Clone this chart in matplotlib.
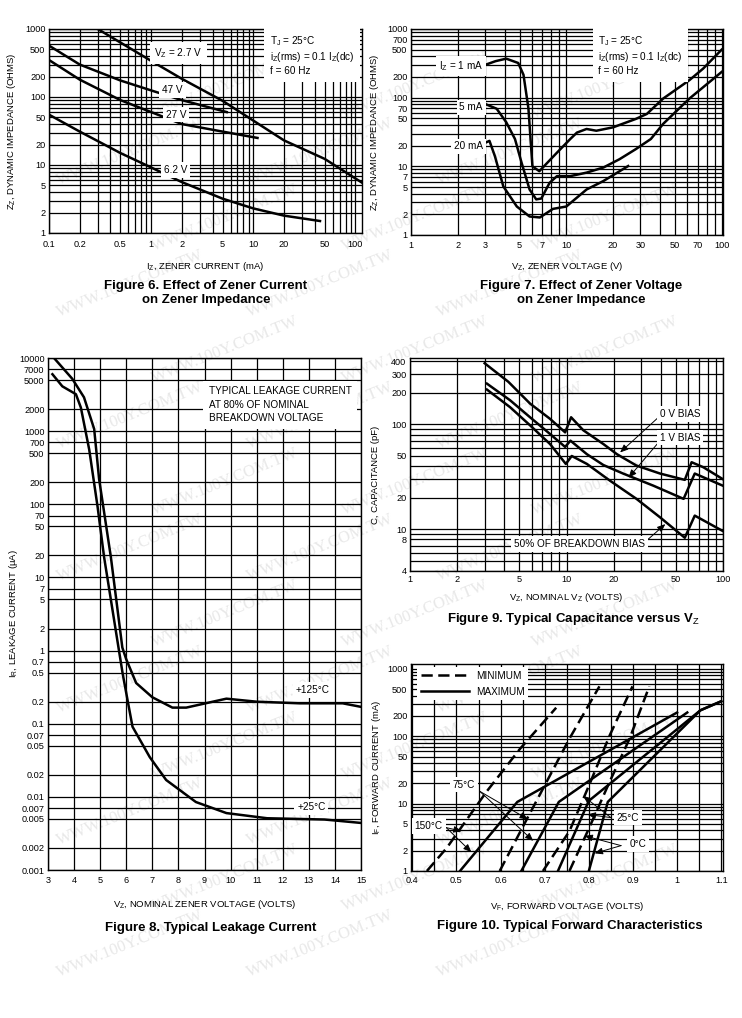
import matplotlib
matplotlib.use("Agg")
import matplotlib.pyplot as plt
from matplotlib.ticker import LogLocator, NullFormatter, MultipleLocator

plt.rcParams['font.family'] = ['Liberation Sans', 'DejaVu Sans']
plt.rcParams['mathtext.fontset'] = 'custom'
plt.rcParams['mathtext.rm'] = 'Liberation Sans'
plt.rcParams['mathtext.it'] = 'Liberation Sans'
plt.rcParams['mathtext.bf'] = 'Liberation Sans:bold'
plt.rcParams['mathtext.default'] = 'rm'

W, H = 742, 1018
TICK_FS = 6.6
LBL_FS = 6.8
NOTE_FS = 7.2
TITLE_FS = 9.5
LW = 1.8
GRID_LW = 0.9

# ---------------- Figure 6: Zz vs Iz ----------------
iz_2v7 = [0.3, 1.0, 2.0, 5.0, 10, 20, 50, 116]
zz_2v7 = [1000, 340, 185, 88, 45, 23, 12.3, 5.5]
iz_47v = [0.1, 0.2, 0.5, 1.0, 2.0, 5.5]
zz_47v = [570, 300, 175, 125, 90, 60]
iz_27v = [0.1, 0.2, 0.5, 1.0, 2.0, 5.0, 11]
zz_27v = [350, 180, 90, 60, 40, 31, 25]
iz_6v2 = [0.1, 0.2, 0.5, 1.0, 2.0, 5.0, 10, 20, 45]
zz_6v2 = [55, 31, 15, 9.2, 5.6, 3.2, 2.3, 1.8, 1.5]
f6_xticks = [0.1, 0.2, 0.5, 1, 2, 5, 10, 20, 50, 100]
f6_xlabels = ['0.1', '0.2', '0.5', '1', '2', '5', '10', '20', '50', '100']
f6_yticks = [1, 2, 5, 10, 20, 50, 100, 200, 500, 1000]

# ---------------- Figure 7: Zz vs Vz ----------------
vz_1ma = [3.0, 3.5, 4.1, 4.9, 5.3, 5.7, 6.05, 6.7, 8.7, 10.6, 11.7, 13.5, 15.6, 20, 28, 33, 42, 62, 76, 100]
zz_1ma = [300, 340, 370, 320, 215, 70, 10, 8.5, 15.8, 25, 31, 35, 33, 37, 49, 58, 97, 180, 265, 500]
vz_5ma = [3.0, 3.56, 4.1, 4.67, 5.15, 5.8, 6.4, 6.9, 7.8, 8.7, 10.6, 13.5, 17.3, 22, 28, 35, 42, 62, 100]
zz_5ma = [81, 69, 44, 25, 11.3, 4.6, 3.3, 3.4, 5.75, 7.2, 7.2, 8.1, 9.6, 12.7, 17.8, 25, 41.5, 97, 237]
vz_20ma = [3.0, 3.2, 3.47, 3.93, 4.8, 5.8, 6.75, 8.2, 10, 13.5, 17.3, 25]
zz_20ma = [22, 23.5, 14, 5.1, 2.6, 1.86, 1.8, 2.4, 2.6, 4.6, 6.1, 10.1]
f7_xticks = [1, 2, 3, 5, 7, 10, 20, 30, 50, 70, 100]
f7_yticks = [1, 2, 5, 7, 10, 20, 50, 70, 100, 200, 500, 700, 1000]

# ---------------- Figure 8: leakage current ----------------
vz_125c = [3.23, 3.93, 4.38, 4.77, 4.96, 5.41, 5.85, 6.0, 6.38, 7.0, 7.77, 8.3, 9.84, 11.0, 12.65, 14.3, 15.0]
ir_125c = [10000, 5200, 2900, 1070, 220, 19, 1.1, 0.76, 0.36, 0.23, 0.166, 0.166, 0.22, 0.2, 0.19, 0.19, 0.17]
vz_25c = [3.17, 3.55, 4.07, 4.26, 4.58, 4.9, 5.15, 5.67, 5.86, 6.05, 6.24, 6.9, 7.53, 8.67, 9.84, 11.4, 13.6, 15.0]
ir_25c = [6000, 4100, 3200, 2100, 560, 93, 19, 1.3, 0.49, 0.21, 0.091, 0.035, 0.017, 0.0085, 0.006, 0.0051, 0.0049, 0.0044]
f8_yticks = [0.001, 0.002, 0.005, 0.007, 0.01, 0.02, 0.05, 0.07, 0.1, 0.2, 0.5, 0.7, 1, 2, 5, 7,
             10, 20, 50, 70, 100, 200, 500, 700, 1000, 2000, 5000, 7000, 10000]
f8_ylabels = ['0.001', '0.002', '0.005', '0.007', '0.01', '0.02', '0.05', '0.07', '0.1', '0.2', '0.5', '0.7',
              '1', '2', '5', '7', '10', '20', '50', '70', '100', '200', '500', '700', '1000', '2000',
              '5000', '7000', '10000']
f8_xticks = list(range(3, 16))

# ---------------- Figure 9: capacitance ----------------
vz_0v = [3.0, 4.25, 5.85, 7.85, 9.8, 10.7, 12.8, 17.2, 21, 28, 39.6, 57, 63, 75, 100]
c_0v = [383, 255, 158, 113, 84, 117, 88, 65, 52, 40.5, 34, 29.6, 43.6, 39, 30]
vz_1v = [3.1, 4.36, 5.85, 7.85, 9.8, 10.6, 13.5, 17.2, 23, 36, 56, 66, 100]
c_1v = [245, 170, 117, 81, 61, 70, 52, 41, 34, 26, 19.5, 34, 26]
vz_50 = [3.1, 4.36, 5.85, 7.85, 9.9, 10.8, 13.5, 19, 28, 39.6, 57, 66, 100]
c_50 = [215, 146, 98, 65, 42, 50, 42, 29, 19.5, 13, 8.3, 13.5, 9.6]
f9_xticks = [1, 2, 5, 10, 20, 50, 100]
f9_yticks = [4, 8, 10, 20, 50, 100, 200, 300, 400]

# ---------------- Figure 10: forward characteristics ----------------
vf_min = [[0.433, 0.478, 0.568, 0.644, 0.726],
          [0.598, 0.659, 0.756, 0.824],
          [0.696, 0.756, 0.801, 0.847, 0.899],
          [0.756, 0.801, 0.847, 0.892, 0.937]]
if_min = [[1, 2.2, 15, 65, 265],
          [1, 5.8, 92, 550],
          [1, 3.9, 19, 102, 550],
          [1, 4.4, 21, 91, 550]]
vf_max = [[0.508, 0.638, 1.0],
          [0.647, 0.732, 1.023],
          [0.73, 0.80, 1.053, 1.1],
          [0.80, 0.843, 1.053, 1.1]]
if_max = [[1, 10.6, 225],
          [1, 10.6, 225],
          [1, 11, 243, 330],
          [1, 10.6, 243, 330]]
f10_xticks = [0.4, 0.5, 0.6, 0.7, 0.8, 0.9, 1.0, 1.1]
f10_xlabels = ['0.4', '0.5', '0.6', '0.7', '0.8', '0.9', '1', '1.1']
f10_yticks = [1, 2, 5, 10, 20, 50, 100, 200, 500, 1000]

fig = plt.figure(figsize=(W / 100, H / 100), dpi=100)
fig.patch.set_facecolor('white')

# faint watermark behind everything (only copies that sit fully inside the page)
for row in range(16):
    for col in range(5):
        xw = -60 + col * 190 + (row % 2) * 95
        yw = 20 + row * 66
        if 80 <= xw <= W - 80 and 35 <= yw <= H - 35:
            fig.text(xw / W, 1 - yw / H, "WWW.100Y.COM.TW", fontsize=12, family='Liberation Serif',
                     color='#e8e8e8', rotation=22, ha='center', va='center', zorder=-5)


def axes_px(x0, y0, x1, y1):
    a = fig.add_axes([x0 / W, 1 - y1 / H, (x1 - x0) / W, (y1 - y0) / H])
    a.set_facecolor('none')
    for s in a.spines.values():
        s.set_linewidth(1.0)
        s.set_color('k')
    return a


def log_minor(axis):
    axis.set_minor_locator(LogLocator(base=10, subs=range(2, 10), numticks=30))
    axis.set_minor_formatter(NullFormatter())


def finish(ax, xpad, ypad=2.5):
    ax.tick_params(which='both', length=0, labelsize=TICK_FS)
    ax.tick_params(axis='x', pad=xpad)
    ax.tick_params(axis='y', pad=ypad)
    ax.grid(True, which='both', color='k', lw=GRID_LW)
    ax.set_axisbelow(True)


white = dict(facecolor='white', edgecolor='none', pad=2.0)

# ===== Figure 6 =====
ax6 = axes_px(49, 29, 362, 233)
ax6.set_xscale('log')
ax6.set_yscale('log')
ax6.plot(iz_2v7, zz_2v7, 'k', lw=LW)
ax6.plot(iz_47v, zz_47v, 'k', lw=LW)
ax6.plot(iz_27v, zz_27v, 'k', lw=LW)
ax6.plot(iz_6v2, zz_6v2, 'k', lw=LW)
ax6.set_xlim(0.1, 116)
ax6.set_ylim(1, 1000)
log_minor(ax6.xaxis)
log_minor(ax6.yaxis)
ax6.set_xticks(f6_xticks, f6_xlabels)
ax6.set_yticks(f6_yticks, [str(v) for v in f6_yticks])
finish(ax6, 5.0)
ax6.text(1.85, 445, "V$_Z$ = 2.7 V", fontsize=NOTE_FS, ha='center', va='center', bbox=dict(white, pad=3))
ax6.text(1.62, 128, "47 V", fontsize=NOTE_FS, ha='center', va='center', bbox=white)
ax6.text(1.75, 55, "27 V", fontsize=NOTE_FS, ha='center', va='center', bbox=white)
ax6.text(1.75, 8.5, "6.2 V", fontsize=NOTE_FS, ha='center', va='center', bbox=white)
ax6.text(0.705, 0.975, "T$_J$ = 25°C\ni$_Z$(rms) = 0.1 I$_Z$(dc)\nf = 60 Hz", transform=ax6.transAxes,
         fontsize=NOTE_FS, ha='left', va='top', linespacing=1.25, bbox=dict(white, pad=4))
ax6.set_xlabel("I$_Z$, ZENER CURRENT (mA)", fontsize=LBL_FS)
ax6.set_ylabel("Z$_Z$, DYNAMIC IMPEDANCE (OHMS)", fontsize=LBL_FS)
ax6.xaxis.set_label_coords(0.5, -0.13)
ax6.yaxis.set_label_coords(-0.10, 0.5)

# ===== Figure 7 =====
ax7 = axes_px(411, 29, 723, 235)
ax7.set_xscale('log')
ax7.set_yscale('log')
ax7.plot(vz_1ma, zz_1ma, 'k', lw=LW)
ax7.plot(vz_5ma, zz_5ma, 'k', lw=LW)
ax7.plot(vz_20ma, zz_20ma, 'k', lw=LW)
ax7.set_xlim(1, 102)
ax7.set_ylim(1, 1000)
log_minor(ax7.xaxis)
log_minor(ax7.yaxis)
ax7.set_xticks(f7_xticks, [str(v) for v in f7_xticks])
ax7.set_yticks(f7_yticks, [str(v) for v in f7_yticks])
finish(ax7, 4.5)
ax7.text(2.9, 290, "I$_Z$ = 1 mA", fontsize=NOTE_FS, ha='right', va='center', bbox=white)
ax7.text(2.9, 72, "5 mA", fontsize=NOTE_FS, ha='right', va='center', bbox=white)
ax7.text(2.9, 19.5, "20 mA", fontsize=NOTE_FS, ha='right', va='center', bbox=white)
ax7.text(0.6, 0.975, "T$_J$ = 25°C\ni$_Z$(rms) = 0.1 I$_Z$(dc)\nf = 60 Hz", transform=ax7.transAxes,
         fontsize=NOTE_FS, ha='left', va='top', linespacing=1.25, bbox=dict(white, pad=4))
ax7.set_xlabel("V$_Z$, ZENER VOLTAGE (V)", fontsize=LBL_FS)
ax7.set_ylabel("Z$_Z$, DYNAMIC IMPEDANCE (OHMS)", fontsize=LBL_FS)
ax7.xaxis.set_label_coords(0.5, -0.12)
ax7.yaxis.set_label_coords(-0.096, 0.5)

# ===== Figure 8 =====
ax8 = axes_px(48, 358, 361, 870)
ax8.set_yscale('log')
ax8.plot(vz_125c, ir_125c, 'k', lw=LW)
ax8.plot(vz_25c, ir_25c, 'k', lw=LW)
ax8.set_xlim(3, 15)
ax8.set_ylim(0.001, 10000)
ax8.set_xticks(f8_xticks, [str(v) for v in f8_xticks])
ax8.set_yticks(f8_yticks, f8_ylabels)
ax8.yaxis.set_minor_locator(plt.NullLocator())
finish(ax8, 4.0)
ax8.text(0.513, 0.945, "TYPICAL LEAKAGE CURRENT\nAT 80% OF NOMINAL\nBREAKDOWN VOLTAGE", transform=ax8.transAxes,
         fontsize=NOTE_FS, ha='left', va='top', linespacing=1.45, bbox=dict(white, pad=4))
ax8.text(13.15, 0.29, "+125°C", fontsize=NOTE_FS, ha='center', va='center', bbox=white)
ax8.text(13.1, 0.0072, "+25°C", fontsize=NOTE_FS, ha='center', va='center', bbox=white)
ax8.set_xlabel("V$_Z$, NOMINAL ZENER VOLTAGE (VOLTS)", fontsize=LBL_FS)
ax8.set_ylabel("I$_R$, LEAKAGE CURRENT (μA)", fontsize=LBL_FS)
ax8.xaxis.set_label_coords(0.5, -0.055)
ax8.yaxis.set_label_coords(-0.091, 0.5)

# ===== Figure 9 =====
ax9 = axes_px(410, 358, 723, 571)
ax9.set_xscale('log')
ax9.set_yscale('log')
ax9.plot(vz_0v, c_0v, 'k', lw=LW)
ax9.plot(vz_1v, c_1v, 'k', lw=LW)
ax9.plot(vz_50, c_50, 'k', lw=LW)
ax9.set_xlim(1, 100)
ax9.set_ylim(4, 430)
log_minor(ax9.xaxis)
log_minor(ax9.yaxis)
ax9.set_xticks(f9_xticks, [str(v) for v in f9_xticks])
ax9.set_yticks(f9_yticks, [str(v) for v in f9_yticks])
finish(ax9, 3.0)
arr = dict(arrowstyle='-|>,head_length=0.6,head_width=0.25', lw=0.7, color='k',
           shrinkA=0, shrinkB=0, mutation_scale=8)
ax9.annotate("", xy=(22, 54), xytext=(38.7, 117), arrowprops=arr)
ax9.annotate("", xy=(24.9, 31), xytext=(39.6, 70), arrowprops=arr)
ax9.annotate("", xy=(42.8, 11.2), xytext=(31.4, 7.45), arrowprops=arr)
ax9.text(53, 126, "0 V BIAS", fontsize=NOTE_FS, ha='center', va='center', bbox=white)
ax9.text(53, 75, "1 V BIAS", fontsize=NOTE_FS, ha='center', va='center', bbox=white)
ax9.text(12.1, 7.2, "50% OF BREAKDOWN BIAS", fontsize=NOTE_FS, ha='center', va='center', bbox=white)
ax9.set_xlabel("V$_Z$, NOMINAL V$_Z$ (VOLTS)", fontsize=LBL_FS)
ax9.set_ylabel("C, CAPACITANCE (pF)", fontsize=LBL_FS)
ax9.xaxis.set_label_coords(0.5, -0.095)
ax9.yaxis.set_label_coords(-0.097, 0.45)

# ===== Figure 10 =====
ax10 = axes_px(411, 664, 723, 871)
ax10.set_yscale('log')
for i, (xs, ys) in enumerate(zip(vf_min, if_min)):
    ax10.plot(xs, ys, 'k', lw=LW, ls=(0, (4.5, 2.2)), label='MINIMUM' if i == 0 else None)
for i, (xs, ys) in enumerate(zip(vf_max, if_max)):
    ax10.plot(xs, ys, 'k', lw=LW, label='MAXIMUM' if i == 0 else None)
ax10.set_xlim(0.397, 1.104)
ax10.set_ylim(1, 1180)
ax10.xaxis.set_minor_locator(MultipleLocator(0.05))
log_minor(ax10.yaxis)
ax10.set_xticks(f10_xticks, f10_xlabels)
ax10.set_yticks(f10_yticks, [str(v) for v in f10_yticks])
finish(ax10, 3.5)
leg = ax10.legend(loc='upper left', bbox_to_anchor=(0.02, 0.985), fontsize=NOTE_FS, handlelength=4.8,
                  handletextpad=0.7, labelspacing=0.6, borderpad=0.35, frameon=True, fancybox=False,
                  framealpha=1.0, borderaxespad=0)
leg.get_frame().set_edgecolor('none')
leg.get_frame().set_facecolor('white')
for xy in [(0.512, 3.9), (0.534, 1.9)]:
    ax10.annotate("", xy=xy, xytext=(0.477, 4.4), arrowprops=arr)
for xy in [(0.662, 5.85), (0.674, 2.8)]:
    ax10.annotate("", xy=xy, xytext=(0.553, 15.2), arrowprops=arr)
for xy in [(0.787, 13.0), (0.797, 6.9)]:
    ax10.annotate("", xy=xy, xytext=(0.85, 6.2), arrowprops=arr)
for xy in [(0.79, 3.33), (0.813, 1.83)]:
    ax10.annotate("", xy=xy, xytext=(0.873, 2.38), arrowprops=arr)
ax10.text(0.437, 4.67, "150°C", fontsize=NOTE_FS, ha='center', va='center', bbox=white)
ax10.text(0.517, 19.2, "75°C", fontsize=NOTE_FS, ha='center', va='center', bbox=white)
ax10.text(0.888, 6.2, "25°C", fontsize=NOTE_FS, ha='center', va='center', bbox=white)
ax10.text(0.911, 2.52, "0°C", fontsize=NOTE_FS, ha='center', va='center', bbox=white)
ax10.set_xlabel("V$_F$, FORWARD VOLTAGE (VOLTS)", fontsize=LBL_FS)
ax10.set_ylabel("I$_F$, FORWARD CURRENT (mA)", fontsize=LBL_FS)
ax10.xaxis.set_label_coords(0.5, -0.14)
ax10.yaxis.set_label_coords(-0.091, 0.5)

# ===== captions =====
cap = dict(ha='center', va='center', fontsize=TITLE_FS, weight='bold', linespacing=1.25)
fig.text(206 / W, 1 - 293 / H, "Figure 6. Effect of Zener Current\non Zener Impedance", **cap)
fig.text(581 / W, 1 - 293 / H, "Figure 7. Effect of Zener Voltage\non Zener Impedance", **cap)
fig.text(211 / W, 1 - 928 / H, "Figure 8. Typical Leakage Current", **cap)
fig.text(573 / W, 1 - 619 / H, "Figure 9. Typical Capacitance versus V$_Z$", **cap)
fig.text(570 / W, 1 - 926 / H, "Figure 10. Typical Forward Characteristics", **cap)

fig.savefig("out.png", dpi=100, facecolor='white')
